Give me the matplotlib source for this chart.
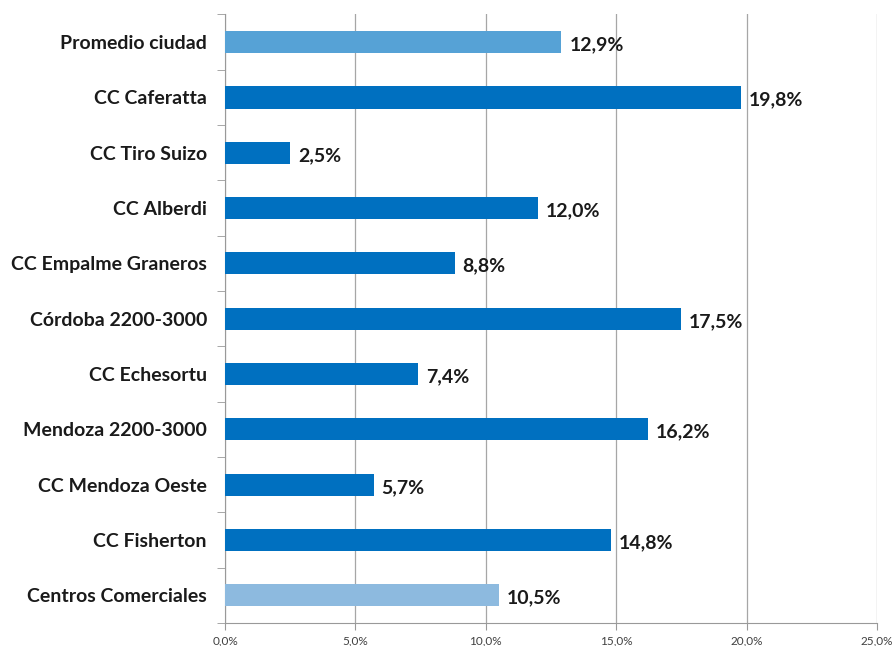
import matplotlib.pyplot as plt
import numpy as np

# categorías de arriba hacia abajo
categorias = ["Promedio ciudad", "CC Caferatta", "CC Tiro Suizo", "CC Alberdi",
              "CC Empalme Graneros", "Córdoba 2200-3000", "CC Echesortu",
              "Mendoza 2200-3000", "CC Mendoza Oeste", "CC Fisherton",
              "Centros Comerciales"]
valores = [12.9, 19.8, 2.5, 12.0, 8.8, 17.5, 7.4, 16.2, 5.7, 14.8, 10.5]
colores = ["#56A2D6"] + ["#0070C0"] * 9 + ["#8DBADF"]

ticks_x = [0, 5, 10, 15, 20, 25]

plt.rcParams['font.family'] = ['Lato', 'DejaVu Sans']

fig = plt.figure(figsize=(8.94, 6.46), dpi=100)
ax = fig.add_axes([0.2517, 0.0356, 0.7293, 0.942])

y = np.arange(len(categorias))[::-1]
ax.barh(y, valores, height=0.4, color=colores, zorder=3)

for yi, v in zip(y, valores):
    ax.text(v + 0.3, yi - 0.05, f"{v:.1f}%".replace(".", ","), va="center", ha="left",
            fontsize=14, fontweight="bold", color="#1a1a1a", zorder=4)

ax.set_xlim(0, 25)
ax.set_ylim(-0.5, len(categorias) - 0.5)
ax.set_xticks(ticks_x)
ax.set_xticklabels([f"{t:.1f}%".replace(".", ",") for t in ticks_x], fontsize=8.5, color="#404040")
ax.set_yticks(y)
ax.set_yticklabels(categorias, fontsize=14, fontweight="bold", color="#1a1a1a")
ax.tick_params(axis="y", length=0, pad=13)
ax.tick_params(axis="x", length=5, color="#999999", pad=4)

# marcas menores entre categorías en el eje vertical
ax.set_yticks(np.arange(-0.5, len(categorias), 1), minor=True)
ax.tick_params(axis="y", which="minor", length=6, color="#999999")

ax.grid(axis="x", color="#a6a6a6", linewidth=0.9, zorder=0)
for s in ["top", "right"]:
    ax.spines[s].set_visible(False)
ax.spines["left"].set_color("#999999")
ax.spines["bottom"].set_color("#999999")

fig.savefig("out.png", dpi=100)
